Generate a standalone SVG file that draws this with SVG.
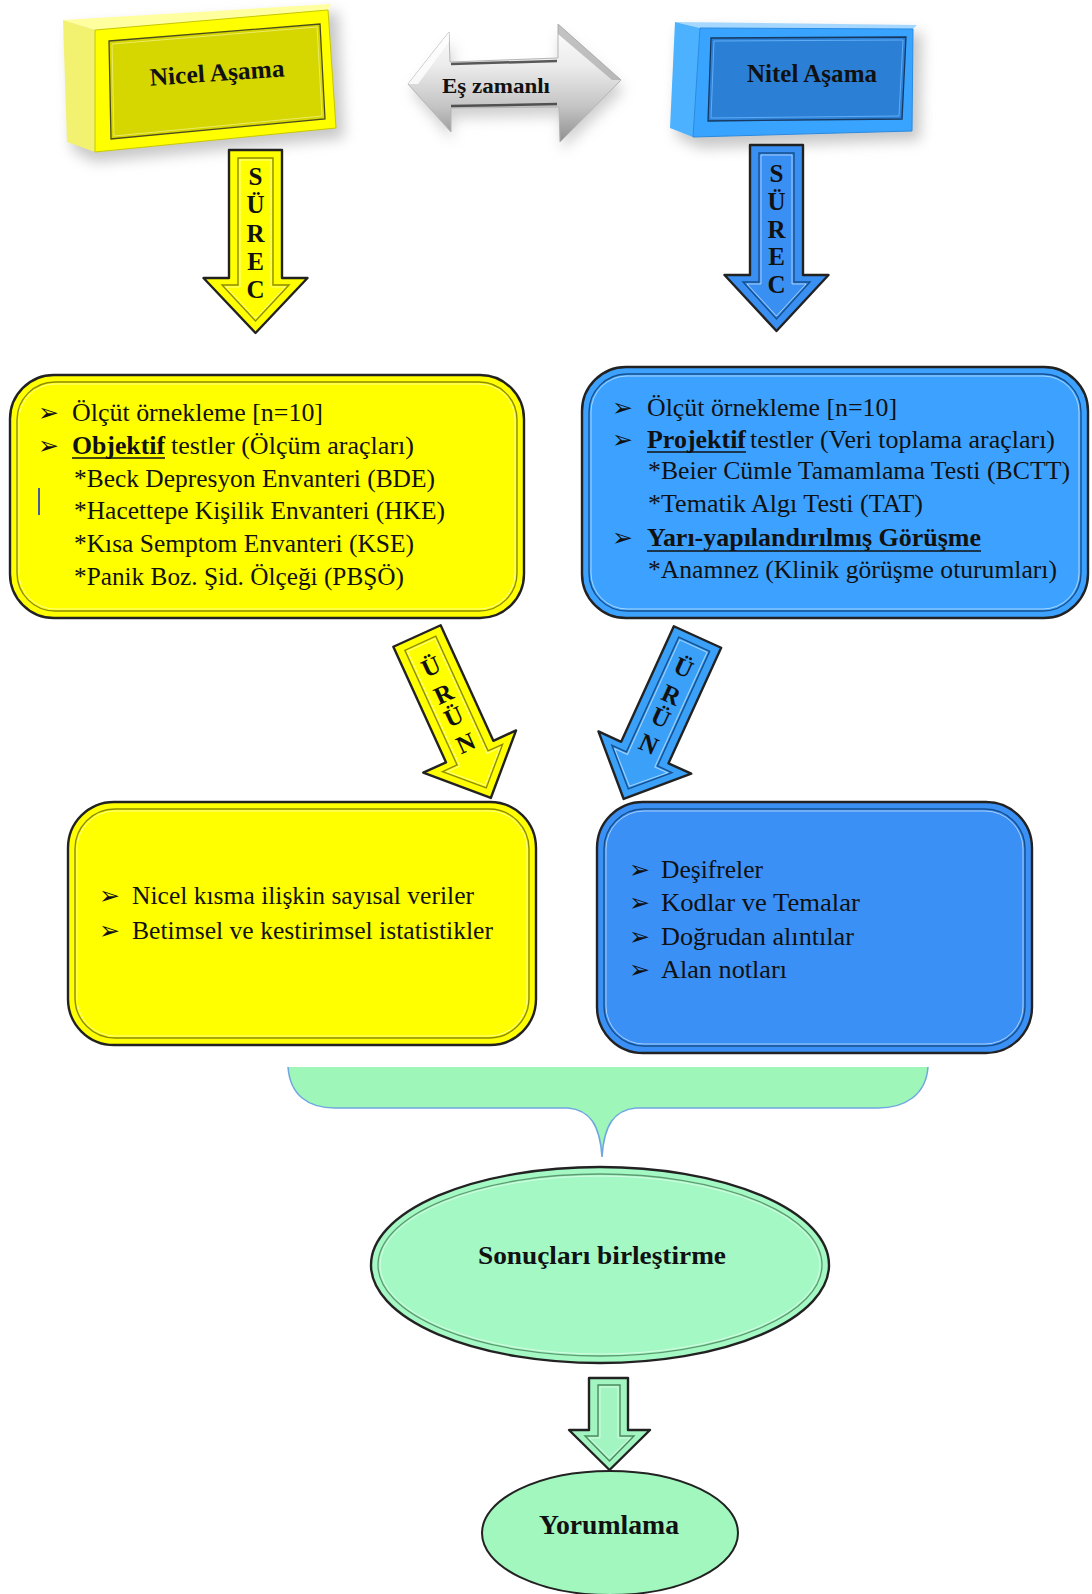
<svg xmlns="http://www.w3.org/2000/svg" width="1092" height="1594" viewBox="0 0 1092 1594">
<defs>
<style>
.t{font-family:"Liberation Serif","Times New Roman",serif;font-size:25px;fill:#111}
.b{font-weight:bold}
.h{font-family:"Liberation Serif","Times New Roman",serif;font-weight:bold;fill:#111}
.bul{font-family:"DejaVu Sans",sans-serif;font-size:25px;fill:#111}
.ul{stroke:#111;stroke-width:1.6}
.edge{stroke:#222;stroke-width:2.4;stroke-linejoin:round}
.inY{fill:none;stroke:#8c8c00;stroke-width:1.4}
.inB{fill:none;stroke:#14508f;stroke-width:1.4}
.inG{fill:none;stroke:#4c8a5f;stroke-width:1.4}
.hl{fill:none;stroke:#fff;stroke-opacity:.55;stroke-width:1}
.let{font-family:"Liberation Serif","Times New Roman",serif;font-weight:bold;font-size:25px;fill:#111;text-anchor:middle}
</style>
<filter id="blur" x="-20%" y="-20%" width="140%" height="140%"><feGaussianBlur stdDeviation="7"/></filter>
<linearGradient id="gray" x1="0" y1="0" x2="0" y2="1">
<stop offset="0" stop-color="#ffffff"/>
<stop offset="0.35" stop-color="#ececec"/>
<stop offset="0.7" stop-color="#c4c4c4"/>
<stop offset="1" stop-color="#8f8f8f"/>
</linearGradient>
</defs>

<!-- Nicel Aşama -->
<g id="nicel">
<polygon points="70,28 338,12 344,138 95,162 72,150" fill="#9a9a9a" opacity="0.55" filter="url(#blur)"/>
<polygon points="63,20 331,4 328,10 95,30" fill="#ffffa0"/>
<polygon points="63,20 95,30 95,152 67,142" fill="#f2f270"/>
<polygon points="95,30 328,10 336,128 95,152" fill="#ffff00" stroke="#c8c800" stroke-width="1"/>
<polygon points="109,41 320,24 325,119 111,139" fill="#d6d600" stroke="#4a4a20" stroke-width="1.3"/>
<polygon points="112,44 317,27 322,116 114,136" fill="none" stroke="#f0f080" stroke-width="0.8"/>
<text class="h" x="217" y="81" font-size="25" text-anchor="middle" textLength="135" lengthAdjust="spacingAndGlyphs" transform="rotate(-4 217 73)">Nicel Aşama</text>
</g>

<!-- Eş zamanlı -->
<g id="eszamanli">
<polygon points="412,92 452,42 452,72 560,68 560,34 624,90 562,150 562,116 452,118 452,140" fill="#a0a0a0" opacity="0.5" filter="url(#blur)"/>
<polygon points="408,84 449,32 450,62 558,58 558,24 621,80 560,142 559,107 451,108 451,132" fill="url(#gray)" stroke="#b5b5b5" stroke-width="1"/>
<line x1="451" y1="64" x2="557" y2="61" stroke="#333" stroke-width="2.5" opacity="0.8"/>
<line x1="451" y1="106" x2="557" y2="104" stroke="#333" stroke-width="2.5" opacity="0.8"/>
<polygon points="558,24 621,80 612,80 558,34" fill="#9c9c9c" opacity="0.6"/>
<polygon points="408,84 449,32 449,42 418,84" fill="#ffffff" opacity="0.8"/>
<text class="h" x="496" y="93" font-size="22" text-anchor="middle" textLength="108" lengthAdjust="spacingAndGlyphs" fill="#222">Eş zamanlı</text>
</g>

<!-- Nitel Aşama -->
<g id="nitel">
<polygon points="680,30 922,33 920,140 700,148 676,136" fill="#9a9a9a" opacity="0.55" filter="url(#blur)"/>
<polygon points="675,22 917,25 913,29 700,28" fill="#a6d8ff"/>
<polygon points="675,22 700,28 693,137 670,128" fill="#4cb2ff"/>
<polygon points="700,28 913,29 912,131 693,137" fill="#38a4ff" stroke="#2a8ae0" stroke-width="1"/>
<polygon points="711,38 906,37 902,119 708,121" fill="#2b80d6" stroke="#17385f" stroke-width="1.3"/>
<polygon points="714,41 903,40 899,116 711,118" fill="none" stroke="#6fb8ff" stroke-width="0.8"/>
<text class="h" x="812" y="82" font-size="25" text-anchor="middle" textLength="130" lengthAdjust="spacingAndGlyphs">Nitel Aşama</text>
</g>

<!-- Connectors (arrows) -->
<g id="connectors">
<g id="surec-y">
<path d="M229,150 H282 V278 H307.5 L255.5,333 L203.5,278 H229 Z" fill="#ffff00" class="edge"/>
<path d="M238,158 H273 V285 H289 L255.5,321 L222,285 H238 Z" class="inY"/>
<path d="M240,160 H271 V287 H285 L255.5,318 L226,287 H240 Z" class="hl"/>
<text class="let" x="255.5" y="185">S</text>
<text class="let" x="255.5" y="213">Ü</text>
<text class="let" x="255.5" y="242">R</text>
<text class="let" x="255.5" y="270">E</text>
<text class="let" x="255.5" y="298">C</text>
</g>
<g id="surec-b">
<path d="M750,145 H803 V275 H828.5 L776.5,331 L724.5,275 H750 Z" fill="#3a8ff2" class="edge"/>
<path d="M759,153 H794 V282 H810 L776.5,319 L743,282 H759 Z" class="inB"/>
<path d="M761,155 H792 V284 H806 L776.5,316 L747,284 H761 Z" class="hl"/>
<text class="let" x="776.5" y="182">S</text>
<text class="let" x="776.5" y="210">Ü</text>
<text class="let" x="776.5" y="238">R</text>
<text class="let" x="776.5" y="265">E</text>
<text class="let" x="776.5" y="293">C</text>
</g>
<g id="urun-y" transform="translate(417 636) rotate(-24.5)">
<path d="M-26,0 H26 V127 H51 L0,178 L-51,127 H-26 Z" fill="#ffff00" class="edge"/>
<path d="M-17,8 H17 V134 H33 L0,167 L-33,134 H-17 Z" class="inY"/>
<path d="M-15,10 H15 V136 H29 L0,164 L-29,136 H-15 Z" class="hl"/>
<text class="let" font-size="23" x="0" y="42">Ü</text>
<text class="let" font-size="23" x="0" y="72">R</text>
<text class="let" font-size="23" x="0" y="97">Ü</text>
<text class="let" font-size="23" x="0" y="126">N</text>
</g>
<g id="urun-b" transform="translate(697.5 637) rotate(24.5)">
<path d="M-26,0 H26 V127 H51 L0,178 L-51,127 H-26 Z" fill="#3aa0f8" class="edge"/>
<path d="M-17,8 H17 V134 H33 L0,167 L-33,134 H-17 Z" class="inB"/>
<path d="M-15,10 H15 V136 H29 L0,164 L-29,136 H-15 Z" class="hl"/>
<text class="let" font-size="23" x="0" y="42">Ü</text>
<text class="let" font-size="23" x="0" y="72">R</text>
<text class="let" font-size="23" x="0" y="97">Ü</text>
<text class="let" font-size="23" x="0" y="126">N</text>
</g>
<g id="brace">
<path d="M288,1067 C290,1095 308,1108 335,1108 L568,1108 C590,1110 600,1125 602,1157 C604,1125 614,1110 636,1108 L878,1108 C905,1108 926,1095 928,1067 Z" fill="#9ef6b9"/>
<path d="M288,1067 C290,1095 308,1108 335,1108 L568,1108 C590,1110 600,1125 602,1157 C604,1125 614,1110 636,1108 L878,1108 C905,1108 926,1095 928,1067" fill="none" stroke="#6fa6e0" stroke-width="1.5"/>
</g>
<g id="arrow-g">
<path d="M589,1378 H628 V1430 H650 L609.5,1470 L569,1430 H589 Z" fill="#a2f5c0" class="edge"/>
<path d="M598,1385 H620 V1436 H634 L609.5,1461 L585,1436 H598 Z" class="inG"/>
<path d="M600,1387 H618 V1438 H630 L609.5,1458 L589,1438 H600 Z" class="hl"/>
</g>
</g>

<!-- Yellow box 1 -->
<g id="nicel-surec">
<rect x="10" y="375" width="514" height="243" rx="44" fill="#ffff00" class="edge"/>
<rect x="17" y="382" width="500" height="229" rx="38" class="inY"/>
<rect x="19" y="384" width="496" height="225" rx="36" class="hl"/>
<line x1="39" y1="488" x2="39" y2="515" stroke="#1a2fd0" stroke-width="1.6"/>
<text class="bul" x="38" y="421">➢</text>
<text class="bul" x="38" y="454">➢</text>
<text class="t" x="72" y="421" textLength="251" lengthAdjust="spacingAndGlyphs">Ölçüt örnekleme [n=10]</text>
<text class="t b" x="72" y="454" textLength="93" lengthAdjust="spacingAndGlyphs">Objektif</text>
<line class="ul" x1="72" y1="458" x2="165" y2="458"/>
<text class="t" x="171" y="454" textLength="243" lengthAdjust="spacingAndGlyphs">testler (Ölçüm araçları)</text>
<text class="t" x="74" y="487" textLength="361" lengthAdjust="spacingAndGlyphs">*Beck Depresyon Envanteri (BDE)</text>
<text class="t" x="74" y="519" textLength="371" lengthAdjust="spacingAndGlyphs">*Hacettepe Kişilik Envanteri (HKE)</text>
<text class="t" x="74" y="552" textLength="340" lengthAdjust="spacingAndGlyphs">*Kısa Semptom Envanteri (KSE)</text>
<text class="t" x="74" y="585" textLength="330" lengthAdjust="spacingAndGlyphs">*Panik Boz. Şid. Ölçeği  (PBŞÖ)</text>
</g>

<!-- Blue box 1 -->
<g id="nitel-surec">
<rect x="582" y="367" width="506" height="251" rx="44" fill="#3da2ff" class="edge"/>
<rect x="589" y="374" width="492" height="237" rx="38" class="inB"/>
<rect x="591" y="376" width="488" height="233" rx="36" class="hl"/>
<text class="bul" x="612" y="416">➢</text>
<text class="bul" x="612" y="448">➢</text>
<text class="bul" x="612" y="546">➢</text>
<text class="t" x="647" y="416" textLength="250" lengthAdjust="spacingAndGlyphs">Ölçüt örnekleme [n=10]</text>
<text class="t b" x="647" y="448" textLength="99" lengthAdjust="spacingAndGlyphs">Projektif</text>
<line class="ul" x1="647" y1="452" x2="746" y2="452"/>
<text class="t" x="750" y="448" textLength="305" lengthAdjust="spacingAndGlyphs">testler (Veri toplama araçları)</text>
<text class="t" x="648" y="479" textLength="422" lengthAdjust="spacingAndGlyphs">*Beier Cümle Tamamlama Testi (BCTT)</text>
<text class="t" x="648" y="512" textLength="275" lengthAdjust="spacingAndGlyphs">*Tematik Algı Testi (TAT)</text>
<text class="t b" x="647" y="546" textLength="334" lengthAdjust="spacingAndGlyphs">Yarı-yapılandırılmış Görüşme</text>
<line class="ul" x1="647" y1="551" x2="981" y2="551" stroke="#1a2a55"/>
<text class="t" x="648" y="578" textLength="409" lengthAdjust="spacingAndGlyphs">*Anamnez (Klinik görüşme oturumları)</text>
</g>

<!-- Yellow box 2 -->
<g id="nicel-urun">
<rect x="68" y="802" width="468" height="243" rx="46" fill="#ffff00" class="edge"/>
<rect x="75" y="809" width="454" height="229" rx="40" class="inY"/>
<rect x="77" y="811" width="450" height="225" rx="38" class="hl"/>
<text class="bul" x="99" y="904">➢</text>
<text class="bul" x="99" y="939">➢</text>
<text class="t" x="132" y="904" textLength="342" lengthAdjust="spacingAndGlyphs">Nicel kısma ilişkin sayısal veriler</text>
<text class="t" x="132" y="939" textLength="361" lengthAdjust="spacingAndGlyphs">Betimsel ve kestirimsel istatistikler</text>
</g>

<!-- Blue box 2 -->
<g id="nitel-urun">
<rect x="597" y="802" width="435" height="251" rx="46" fill="#3b90f6" class="edge"/>
<rect x="604" y="809" width="421" height="237" rx="40" class="inB"/>
<rect x="606" y="811" width="417" height="233" rx="38" class="hl"/>
<text class="bul" x="629" y="878">➢</text>
<text class="bul" x="629" y="911">➢</text>
<text class="bul" x="629" y="945">➢</text>
<text class="bul" x="629" y="978">➢</text>
<text class="t" x="661" y="878" textLength="102" lengthAdjust="spacingAndGlyphs">Deşifreler</text>
<text class="t" x="661" y="911" textLength="199" lengthAdjust="spacingAndGlyphs">Kodlar ve Temalar</text>
<text class="t" x="661" y="945" textLength="193" lengthAdjust="spacingAndGlyphs">Doğrudan alıntılar</text>
<text class="t" x="661" y="978" textLength="126" lengthAdjust="spacingAndGlyphs">Alan notları</text>
</g>

<!-- Sonuçları birleştirme -->
<g id="birlestirme">
<ellipse cx="600" cy="1265" rx="229" ry="98" fill="#a4f8c4" class="edge"/>
<ellipse cx="600" cy="1265" rx="222" ry="91" fill="none" stroke="#5c9c70" stroke-width="1.3"/>
<ellipse cx="600" cy="1265" rx="220" ry="89" class="hl"/>
<text class="h" x="602" y="1264" font-size="26" text-anchor="middle" textLength="248" lengthAdjust="spacingAndGlyphs">Sonuçları birleştirme</text>
</g>

<!-- Yorumlama -->
<g id="yorumlama">
<ellipse cx="610" cy="1533" rx="128" ry="62" fill="#a2f7bf" stroke="#222" stroke-width="2"/>
<text class="h" x="609" y="1534" font-size="27" text-anchor="middle" textLength="140" lengthAdjust="spacingAndGlyphs">Yorumlama</text>
</g>
</svg>
